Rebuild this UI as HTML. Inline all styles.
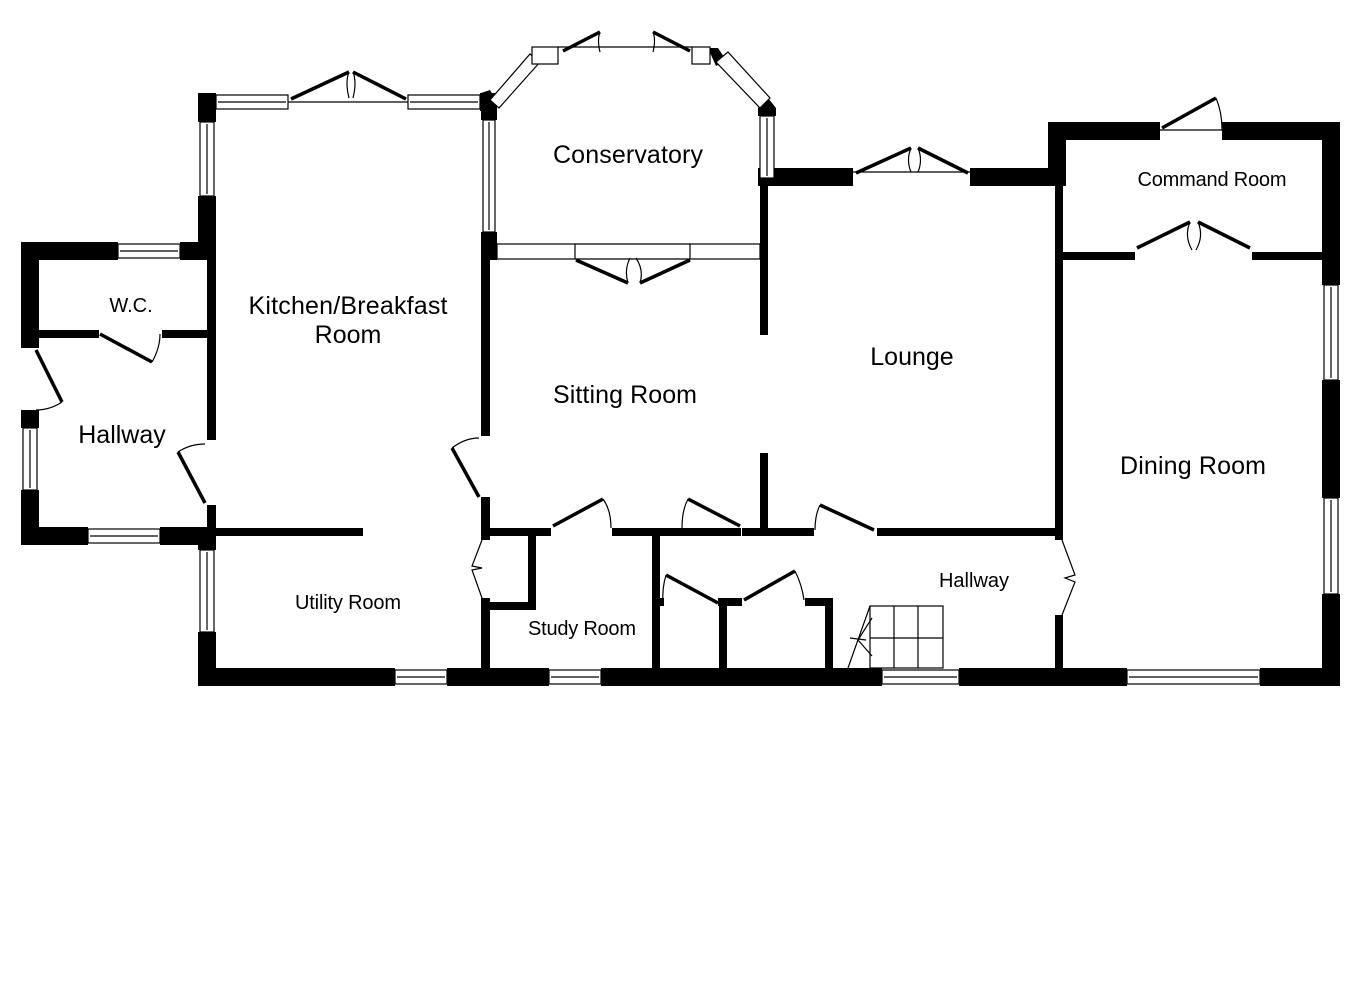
<!DOCTYPE html>
<html><head><meta charset="utf-8"><style>
html,body{margin:0;padding:0;background:#fff;}
svg{display:block;}
text{font-family:"Liberation Sans",Arial,sans-serif;fill:#000;}
</style></head><body>
<svg width="1365" height="991" viewBox="0 0 1365 991" xmlns="http://www.w3.org/2000/svg">
<g fill="#000">
<rect x="21" y="242" width="97" height="18"/>
<rect x="180" y="242" width="36" height="18"/>
<rect x="21" y="242" width="18" height="106"/>
<rect x="21" y="410" width="18" height="18"/>
<rect x="21" y="490" width="18" height="55"/>
<rect x="21" y="527" width="67" height="18"/>
<rect x="160" y="527" width="56" height="18"/>
<rect x="39" y="330" width="60" height="8"/>
<rect x="162" y="330" width="46" height="8"/>
<rect x="198" y="93" width="18" height="29"/>
<rect x="198" y="196" width="18" height="50"/>
<rect x="207" y="242" width="9" height="198"/>
<rect x="207" y="505" width="9" height="40"/>
<rect x="198" y="527" width="18" height="23"/>
<rect x="198" y="632" width="18" height="54"/>
<rect x="216" y="528" width="147" height="8"/>
<rect x="198" y="93" width="18" height="18"/>
<rect x="480" y="93" width="17" height="18"/>
<rect x="481" y="93" width="16" height="27"/>
<rect x="481" y="232" width="16" height="28"/>
<rect x="481" y="260" width="9" height="176"/>
<rect x="481" y="497" width="9" height="43"/>
<rect x="481" y="598" width="9" height="70"/>
<rect x="198" y="668" width="197" height="18"/>
<rect x="447" y="668" width="102" height="18"/>
<rect x="601" y="668" width="281" height="18"/>
<rect x="959" y="668" width="168" height="18"/>
<rect x="1260" y="668" width="80" height="18"/>
<rect x="758" y="168" width="18" height="18"/>
<rect x="760" y="178" width="8" height="157"/>
<rect x="760" y="453" width="8" height="80"/>
<rect x="768" y="168" width="85" height="18"/>
<rect x="970" y="168" width="90" height="18"/>
<rect x="1048" y="122" width="112" height="18"/>
<rect x="1222" y="122" width="118" height="18"/>
<rect x="1048" y="122" width="18" height="64"/>
<rect x="1055" y="186" width="8" height="354"/>
<rect x="1055" y="615" width="8" height="60"/>
<rect x="1322" y="122" width="18" height="163"/>
<rect x="1322" y="380" width="18" height="118"/>
<rect x="1322" y="594" width="18" height="92"/>
<rect x="1063" y="252" width="72" height="8"/>
<rect x="1252" y="252" width="72" height="8"/>
<rect x="481" y="528" width="70" height="8"/>
<rect x="612" y="528" width="129" height="8"/>
<rect x="742" y="528" width="72" height="8"/>
<rect x="877" y="528" width="184" height="8"/>
<rect x="528" y="536" width="8" height="74"/>
<rect x="489" y="602" width="47" height="8"/>
<rect x="652" y="536" width="8" height="132"/>
<rect x="660" y="598" width="4" height="8"/>
<rect x="719" y="598" width="8" height="70"/>
<rect x="718" y="598" width="24" height="8"/>
<rect x="805" y="598" width="28" height="8"/>
<rect x="825" y="598" width="8" height="70"/>
<polygon points="481,93 490,90 497,102 497,120 481,120"/>
<polygon points="708,48 718,48 726,60 716,66"/>
<polygon points="758,108 768,98 776,108 776,116 758,116"/>
</g>
<g fill="#fff" stroke="#000" stroke-width="1.2">
<rect x="118" y="244" width="62" height="14"/><line x1="120" y1="251" x2="178" y2="251" stroke="#000"/>
<rect x="23" y="428" width="14" height="62"/><line x1="30" y1="430" x2="30" y2="488"/>
<rect x="88" y="529" width="72" height="14"/><line x1="90" y1="536" x2="158" y2="536"/>
<rect x="200" y="122" width="14" height="74"/><line x1="207" y1="124" x2="207" y2="194"/>
<rect x="200" y="550" width="14" height="82"/><line x1="207" y1="552" x2="207" y2="630"/>
<rect x="216" y="95" width="72" height="14"/><line x1="218" y1="102" x2="286" y2="102"/>
<rect x="408" y="95" width="72" height="14"/><line x1="410" y1="102" x2="478" y2="102"/>
<rect x="483" y="120" width="12" height="112"/><line x1="489" y1="122" x2="489" y2="230"/>
<rect x="760" y="116" width="14" height="62"/><line x1="767" y1="118" x2="767" y2="176"/>
<rect x="395" y="670" width="52" height="14"/><line x1="397" y1="677" x2="445" y2="677"/>
<rect x="549" y="670" width="52" height="14"/><line x1="551" y1="677" x2="599" y2="677"/>
<rect x="882" y="670" width="77" height="14"/><line x1="884" y1="677" x2="957" y2="677"/>
<rect x="1127" y="670" width="133" height="14"/><line x1="1129" y1="677" x2="1258" y2="677"/>
<rect x="1324" y="285" width="14" height="95"/><line x1="1331" y1="287" x2="1331" y2="378"/>
<rect x="1324" y="498" width="14" height="96"/><line x1="1331" y1="500" x2="1331" y2="592"/>
<rect x="497" y="244" width="78" height="15"/>
<rect x="690" y="244" width="70" height="15"/>
<line x1="575" y1="244" x2="690" y2="244"/><line x1="575" y1="259" x2="690" y2="259"/>
<polygon points="490,100 530,54 540,62 499,108"/>
<polygon points="716,62 728,52 770,98 760,108"/>
<rect x="532" y="47" width="26" height="17"/>
<rect x="692" y="47" width="18" height="17"/>
<line x1="558" y1="47" x2="692" y2="47"/>
<line x1="288" y1="102" x2="408" y2="102"/>
<line x1="853" y1="172" x2="970" y2="172"/>
<line x1="1160" y1="130" x2="1222" y2="130"/>
<rect x="870" y="606" width="73" height="62" fill="none"/>
<line x1="894" y1="606" x2="894" y2="668"/><line x1="918" y1="606" x2="918" y2="668"/>
<line x1="870" y1="638" x2="943" y2="638"/>
</g>
<g stroke="#000" stroke-width="3.5" fill="none">
<line x1="100" y1="334" x2="152" y2="362"/>
<line x1="36" y1="350" x2="62" y2="402"/>
<line x1="178" y1="452" x2="205" y2="503"/>
<line x1="452" y1="448" x2="479" y2="497"/>
<line x1="291" y1="99" x2="349" y2="72"/>
<line x1="406" y1="99" x2="353" y2="72"/>
<line x1="563" y1="51" x2="600" y2="32"/>
<line x1="690" y1="51" x2="653" y2="32"/>
<line x1="576" y1="260" x2="628" y2="283"/>
<line x1="690" y1="260" x2="640" y2="283"/>
<line x1="856" y1="173" x2="911" y2="148"/>
<line x1="968" y1="173" x2="918" y2="148"/>
<line x1="1162" y1="128" x2="1216" y2="98"/>
<line x1="1137" y1="248" x2="1190" y2="222"/>
<line x1="1250" y1="248" x2="1198" y2="222"/>
<line x1="553" y1="526" x2="603" y2="499"/>
<line x1="688" y1="499" x2="740" y2="526"/>
<line x1="820" y1="505" x2="874" y2="530"/>
<line x1="666" y1="575" x2="718" y2="603"/>
<line x1="744" y1="600" x2="795" y2="571"/>
</g>
<g stroke="#000" stroke-width="1.2" fill="none">
<path d="M152 362 Q160 348 160 334"/>
<path d="M62 402 Q50 410 36 410"/>
<path d="M178 452 Q190 444 205 444"/>
<path d="M452 448 Q465 438 479 438"/>
<path d="M349 72 Q345 82 349 98 M353 72 Q357 82 353 98"/>
<path d="M600 32 Q597 40 600 52 M653 32 Q656 40 653 52"/>
<path d="M628 283 Q624 270 630 258 M640 283 Q644 270 636 258"/>
<path d="M911 148 Q906 160 911 172 M918 148 Q923 160 918 172"/>
<path d="M1216 98 Q1222 112 1222 130"/>
<path d="M1190 222 Q1184 236 1192 250 M1198 222 Q1204 236 1196 250"/>
<path d="M603 499 Q611 510 611 528"/>
<path d="M688 499 Q682 510 682 528"/>
<path d="M820 505 Q815 515 815 530"/>
<path d="M666 575 Q662 588 663 603"/>
<path d="M795 571 Q802 585 804 600"/>
<path d="M482 540 L472 566 L482 568 L472 570 L482 598"/>
<path d="M1062 540 L1075 575 L1065 578 L1075 582 L1062 615"/>
<path d="M870 606 L848 668 M872 618 L858 640 L872 656 M850 638 L866 640"/>
</g>
<g font-size="25">
<text x="628" y="163" text-anchor="middle" textLength="150">Conservatory</text>
<text x="348" y="314" text-anchor="middle" textLength="199">Kitchen/Breakfast</text>
<text x="348" y="343" text-anchor="middle">Room</text>
<text x="625" y="403" text-anchor="middle" textLength="144">Sitting Room</text>
<text x="912" y="365" text-anchor="middle">Lounge</text>
<text x="1193" y="474" text-anchor="middle" textLength="146">Dining Room</text>
<text x="122" y="443" text-anchor="middle">Hallway</text>
</g>
<g font-size="20">
<text x="1212" y="186" text-anchor="middle" textLength="149">Command Room</text>
<text x="131" y="312" text-anchor="middle">W.C.</text>
<text x="348" y="609" text-anchor="middle" textLength="106">Utility Room</text>
<text x="582" y="635" text-anchor="middle" textLength="108">Study Room</text>
<text x="974" y="587" text-anchor="middle">Hallway</text>
</g>
</svg>
</body></html>
